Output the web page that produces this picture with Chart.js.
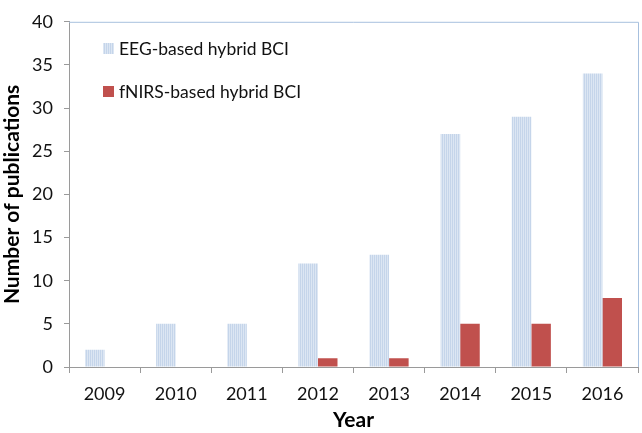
<!DOCTYPE html>
<html>
<head>
<meta charset="utf-8">
<script src="https://cdn.jsdelivr.net/npm/chart.js@4"></script>
<style>
html,body{margin:0;padding:0;background:#fff;}
#wrap{position:relative;width:642px;height:433px;}
</style>
</head>
<body>
<div id="wrap"><canvas id="c" width="642" height="433"></canvas></div>
<script>
const years = ['2009','2010','2011','2012','2013','2014','2015','2016'];
const eegValues = [2, 5, 5, 12, 13, 27, 29, 34];
const fnirsValues = [0, 0, 0, 1, 1, 5, 5, 8];
const seriesNames = ['EEG-based hybrid BCI', 'fNIRS-based hybrid BCI'];
const axisTitles = {x: 'Year', y: 'Number of publications'};

const FONT = 'Lato, "Open Sans", sans-serif';

function makeStripe() {
  const p = document.createElement('canvas');
  p.width = 2; p.height = 2;
  const g = p.getContext('2d');
  g.fillStyle = '#dce6f3'; g.fillRect(0,0,2,2);
  g.fillStyle = '#c5d5ea'; g.fillRect(0,0,1,2);
  return g.createPattern(p, 'repeat');
}
const ctx = document.getElementById('c').getContext('2d');
const stripe = makeStripe();
const redColor = '#c0504d';

const frameAndLegend = {
  id: 'frameAndLegend',
  afterDraw(chart) {
    const c = chart.ctx, a = chart.chartArea;
    c.save();
    c.strokeStyle = '#a7c0de';
    c.lineWidth = 1;
    c.beginPath();
    c.moveTo(a.left, a.top + 0.5); c.lineTo(a.right + 0.5, a.top + 0.5);
    c.lineTo(a.right + 0.5, a.bottom);
    c.stroke();
    const fills = [stripe, redColor];
    const rows = [48, 91];
    c.font = '17.5px ' + FONT;
    c.textBaseline = 'middle';
    for (let i = 0; i < 2; i++) {
      c.fillStyle = fills[i];
      c.fillRect(103, rows[i] - 5, 11, 11);
      c.fillStyle = '#111';
      c.fillText(seriesNames[i], 119, rows[i] + 1);
    }
    c.restore();
  }
};

new Chart(ctx, {
  type: 'bar',
  data: {
    labels: years,
    datasets: [
      {label: seriesNames[0], data: eegValues, backgroundColor: stripe, barPercentage: 1, categoryPercentage: 0.55},
      {label: seriesNames[1], data: fnirsValues, backgroundColor: redColor, barPercentage: 1, categoryPercentage: 0.55}
    ]
  },
  options: {
    responsive: false,
    animation: false,
    layout: {padding: {top: 9, right: 4, left: 0, bottom: 0}},
    plugins: {legend: {display: false}, tooltip: {enabled: false}},
    scales: {
      x: {
        grid: {drawOnChartArea: false, offset: true, color: '#9a9a9a', tickLength: 6, tickColor: '#9a9a9a'},
        border: {color: '#9a9a9a', width: 1},
        ticks: {font: {family: FONT, size: 18}, color: '#111', padding: 10, maxRotation: 0},
        title: {display: true, text: axisTitles.x, font: {family: FONT, size: 21, weight: 'bold'}, color: '#000', padding: {top: 2, bottom: 0}},
        afterFit(s) { s.height = 66; }
      },
      y: {
        min: 0, max: 40,
        grid: {drawOnChartArea: false, color: '#9a9a9a', tickLength: 5, tickColor: '#9a9a9a'},
        border: {color: '#9a9a9a', width: 1},
        ticks: {stepSize: 5, font: {family: FONT, size: 18}, color: '#111', padding: 11},
        title: {display: true, text: axisTitles.y, font: {family: FONT, size: 21, weight: 'bold'}, color: '#000', padding: {top: 0, bottom: 0}},
        afterFit(s) { s.width = 69; }
      }
    }
  },
  plugins: [frameAndLegend]
});
</script>
</body>
</html>
